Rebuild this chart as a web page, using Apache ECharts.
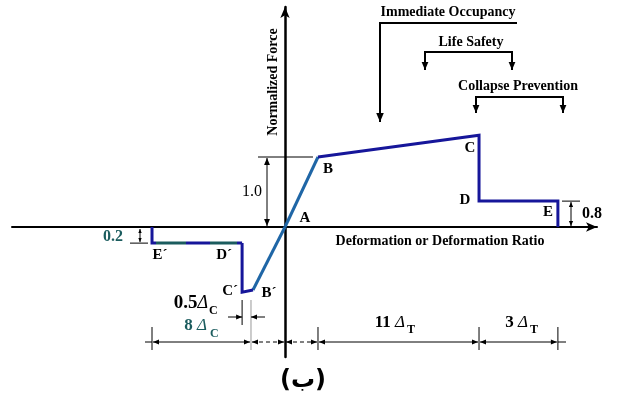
<!DOCTYPE html>
<html><head><meta charset="utf-8">
<script src="https://cdn.jsdelivr.net/npm/echarts@6/dist/echarts.min.js"></script>
<style>html,body{margin:0;padding:0;background:#fff}#c{width:617px;height:401px}</style>
</head><body><div id="c"></div>
<script>
// ---------- data (deformation in yield-deformation units, force normalized) ----------
const posBranchX = [0, 1.0, 5.88, 5.88, 8.27, 8.27];
const posBranchY = [0, 1.0, 1.31, 0.37, 0.37, 0];
const posLabels  = ['A', 'B', 'C', 'D', 'E', ''];
const negBranchX = [0, -0.97, -1.30, -1.30, -4.03, -4.03];
const negBranchY = [0, -0.90, -0.93, -0.23, -0.23, 0];
const negLabels  = ['', 'B´', 'C´', 'D´', 'E´', ''];
const performanceLevels = ['Immediate Occupancy', 'Life Safety', 'Collapse Prevention'];
const dimNumbers = ['8 ', '11 ', '3 '];
const dimSubs = ['C', 'T', 'T'];
const ratioLabels = ['1.0', '0.8', '0.2', '0.5'];
const axisTitles = ['Normalized Force', 'Deformation or Deformation Ratio'];
const caption = '(ب)';

// ---------- styles ----------
const STEEL = '#1f66a6', NAVY = '#16169a', TEAL = '#1b5c5e';
const SERIF = '"Liberation Serif","Times New Roman",serif';

const pts = (xs, ys, a, b) => xs.slice(a, b).map((x, i) => [x, ys[a + i]]);

const chart = echarts.init(document.getElementById('c'), null, {renderer: 'canvas'});
const axisLine = (w) => ({show: true, onZero: true, symbol: ['none', 'arrow'], symbolSize: [7, 11],
  lineStyle: {color: '#000', width: w}});
const lineSeries = (data, color) => ({type: 'line', data, symbol: 'none', animation: false, silent: true,
  lineStyle: {color, width: 3, join: 'miter'}, z: 5});

chart.setOption({
  animation: false,
  grid: {left: 12, right: 20, top: 7, bottom: 44},
  xAxis: {type: 'value', min: -8.273, max: 9.455, axisLine: axisLine(2), axisTick: {show: false},
    axisLabel: {show: false}, splitLine: {show: false}},
  yAxis: {type: 'value', min: -1.857, max: 3.143, axisLine: axisLine(2.5), axisTick: {show: false},
    axisLabel: {show: false}, splitLine: {show: false}},
  series: [
    lineSeries(pts(posBranchX, posBranchY, 0, 2), STEEL),
    lineSeries(pts(posBranchX, posBranchY, 1, 6), NAVY),
    lineSeries(pts(negBranchX, negBranchY, 0, 2), STEEL),
    lineSeries(pts(negBranchX, negBranchY, 1, 4), NAVY),
    lineSeries(pts(negBranchX, negBranchY, 3, 6), new echarts.graphic.LinearGradient(1, 0, 0, 0, [
      {offset: 0, color: NAVY}, {offset: 0.08, color: NAVY}, {offset: 0.08, color: TEAL},
      {offset: 0.36, color: TEAL}, {offset: 0.36, color: NAVY}, {offset: 0.62, color: NAVY},
      {offset: 0.62, color: TEAL}, {offset: 0.93, color: TEAL}, {offset: 0.93, color: NAVY},
      {offset: 1, color: NAVY}]))
  ]
});

// ---------- annotations ----------
const P = (x, y) => chart.convertToPixel({gridIndex: 0}, [x, y]);
const G = [];
function line(x1, y1, x2, y2, o = {}) {
  G.push({type: 'line', z: 10, silent: true, shape: {x1, y1, x2, y2},
    style: {stroke: o.color || '#000', lineWidth: o.w || 1, lineDash: o.dash || null}});
}
function head(x, y, dx, dy, size = 7, color = '#000') {
  const L = Math.hypot(dx, dy), ux = dx / L, uy = dy / L, px = -uy, py = ux, w = size * 0.42;
  G.push({type: 'polygon', z: 11, silent: true, shape: {points: [[x, y],
    [x - ux * size + px * w, y - uy * size + py * w], [x - ux * size - px * w, y - uy * size - py * w]]},
    style: {fill: color}});
}
function arrow(x1, y1, x2, y2, o = {}) { line(x1, y1, x2, y2, o); head(x2, y2, x2 - x1, y2 - y1, o.size || 7, o.color); }
function dbl(x1, y1, x2, y2, o = {}) {
  line(x1, y1, x2, y2, o);
  head(x2, y2, x2 - x1, y2 - y1, o.size || 6, o.color); head(x1, y1, x1 - x2, y1 - y2, o.size || 6, o.color);
}
function text(x, y, str, o = {}) {
  const el = {type: 'text', z: 12, silent: true, x, y, rotation: o.rot || 0,
    style: {text: str, x: 0, y: 0, font: o.font || ('bold 14px ' + SERIF), fill: o.color || '#000',
      align: o.align || 'center', textAlign: o.align || 'center',
      verticalAlign: 'middle', textVerticalAlign: 'middle'}};
  if (o.rich) el.style.rich = o.rich;
  G.push(el);
}

const pos = posBranchX.map((x, i) => P(x, posBranchY[i]));
const neg = negBranchX.map((x, i) => P(x, negBranchY[i]));
const [pA, pB, pC, pD, pE, pE0] = pos;
const [, nB, nC, nD, nE] = neg;

// point labels
const posOff = [[20, -9], [10, 12], [-9, 13], [-14, -1], [-10, 11]];
posOff.forEach((o, i) => text(pos[i][0] + o[0], pos[i][1] + o[1], posLabels[i], {font: 'bold 15px ' + SERIF}));
const negOff = [null, [16, 3], [-12, -1], [-18, 12], [8, 12]];
[1, 2, 3, 4].forEach(i => text(neg[i][0] + negOff[i][0], neg[i][1] + negOff[i][1], negLabels[i], {font: 'bold 15px ' + SERIF}));

// axis titles
text(pA[0] - 12, 82, axisTitles[0], {rot: Math.PI / 2, font: 'bold 14px ' + SERIF});
text(440, pA[1] + 14, axisTitles[1], {font: 'bold 14px ' + SERIF});

// 1.0 dimension
line(258, pB[1], pB[0] - 5, pB[1]);
dbl(267, pB[1] + 1, 267, pA[1] - 1, {size: 7});
text(262, 192, ratioLabels[0], {align: 'right', font: '16px ' + SERIF});

// 0.8 dimension
line(562, pD[1], 580, pD[1]);
dbl(571, pD[1] + 1, 571, pA[1] - 1, {size: 5});
text(582, 214, ratioLabels[1], {align: 'left', font: 'bold 16px ' + SERIF});

// 0.2 dimension
line(130, nD[1], 148, nD[1]);
dbl(140, pA[1] + 2, 140, nD[1] - 1, {size: 4});
text(123, 237, ratioLabels[2], {align: 'right', font: 'bold 16px ' + SERIF, color: TEAL});

// performance level brackets
text(448, 12, performanceLevels[0], {font: 'bold 14px ' + SERIF});
line(379, 23, 517, 23, {w: 2});
arrow(380, 23, 380, 122, {w: 2, size: 9});
text(471, 42, performanceLevels[1], {font: 'bold 14px ' + SERIF});
line(424, 52, 513, 52, {w: 2});
arrow(425, 52, 425, 70, {w: 2, size: 8});
arrow(512, 52, 512, 70, {w: 2, size: 8});
text(518, 86, performanceLevels[2], {font: 'bold 14px ' + SERIF});
line(475, 97, 564, 97, {w: 2});
arrow(476, 97, 476, 113, {w: 2, size: 8});
arrow(563, 97, 563, 113, {w: 2, size: 8});

// 0.5 ΔC dimension
line(nC[0], 300, nC[0], 325);
line(nB[0] - 2, 300, nB[0] - 2, 350, {color: '#999'});
arrow(228, 317, nC[0], 317, {size: 6});
arrow(265, 317, nB[0] - 2, 317, {size: 6});
text(208, 303, '{n|' + ratioLabels[3] + '}{d|Δ}', {align: 'right',
  rich: {n: {font: 'bold 19px ' + SERIF, fill: '#000', color: '#000'}, d: {font: 'italic 18px ' + SERIF, fill: '#000', color: '#000'}}});
text(209, 311, dimSubs[0], {align: 'left', font: 'bold 12px ' + SERIF});

// bottom dimension chain
const yD = 342;
const ticks = [nE[0], pB[0], pC[0], pE[0]];
ticks.forEach(x => line(x, 327, x, 350));
line(145, yD, nE[0], yD);
line(pE[0], yD, 566, yD);
const segs = [[nE[0], nB[0] - 2, false], [nB[0] - 2, pA[0], true], [pA[0], pB[0], true], [pB[0], pC[0], false], [pC[0], pE[0], false]];
segs.forEach(([a, b, dash]) => dbl(a + 1, yD, b - 1, yD, {size: 6, dash: dash ? [4, 3] : null}));

const rich = (c) => ({n: {font: 'bold 17px ' + SERIF, fill: c, color: c}, d: {font: 'italic 17px ' + SERIF, fill: c, color: c}});
text(207, 326, '{n|' + dimNumbers[0] + '}{d|Δ}', {align: 'right', rich: rich(TEAL)});
text(210, 334, dimSubs[0], {align: 'left', font: 'bold 12px ' + SERIF, color: TEAL});
text(405, 323, '{n|' + dimNumbers[1] + '}{d|Δ}', {align: 'right', rich: rich('#000')});
text(407, 330, dimSubs[1], {align: 'left', font: 'bold 12px ' + SERIF});
text(528, 323, '{n|' + dimNumbers[2] + '}{d|Δ}', {align: 'right', rich: rich('#000')});
text(530, 330, dimSubs[2], {align: 'left', font: 'bold 12px ' + SERIF});

// caption
text(303, 381, caption, {font: 'bold 24px "DejaVu Sans", sans-serif'});

chart.setOption({graphic: {elements: G}});
</script></body></html>
